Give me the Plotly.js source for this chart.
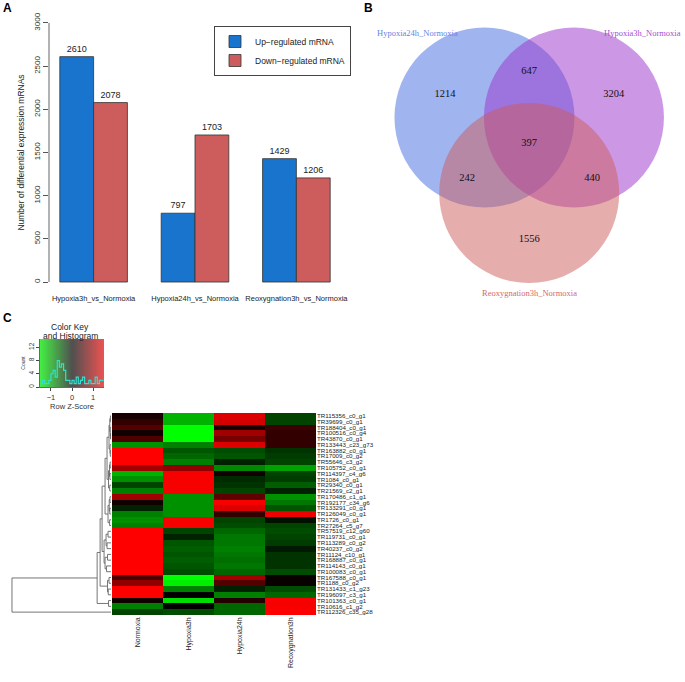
<!DOCTYPE html>
<html><head><meta charset="utf-8">
<script src="https://cdn.plot.ly/plotly-3.0.1.min.js"></script>
<style>html,body{margin:0;padding:0;background:#fff}#chart{width:685px;height:682px}</style>
</head><body><div id="chart"></div>
<script>
// ===== Panel A data =====
const comparisons = ['Hypoxia3h_vs_Normoxia','Hypoxia24h_vs_Normoxia','Reoxygnation3h_vs_Normoxia'];
const upRegulated = [2610, 797, 1429];
const downRegulated = [2078, 1703, 1206];
const seriesNames = ['Up\u2212regulated mRNA','Down\u2212regulated mRNA'];
const barTicks = [0, 500, 1000, 1500, 2000, 2500, 3000];

// ===== Panel B data =====
const vennSets = ['Hypoxia24h_Normoxia','Hypoxia3h_Normoxia','Reoxygnation3h_Normoxia'];
// regions: H24 only, H24&H3, H3 only, all three, H24&Reoxy, H3&Reoxy, Reoxy only
const vennCounts = [1214, 647, 3204, 397, 242, 440, 1556];

// ===== Panel C data =====
const conditions = ['Normoxia','Hypoxia3h','Hypoxia24h','Reoxygnation3h'];
const genes = ['TR115356_c0_g1','TR39699_c0_g1','TR188404_c0_g1','TR100516_c0_g4','TR43870_c0_g1',
 'TR133443_c23_g73','TR163882_c0_g1','TR17009_c0_g2','TR55646_c3_g2','TR105752_c0_g1',
 'TR114397_c4_g6','TR1084_c0_g1','TR29340_c0_g1','TR21569_c2_g1','TR170486_c1_g1',
 'TR192177_c34_g6','TR133291_c0_g1','TR126049_c0_g1','TR1726_c0_g1','TR27264_c5_g7',
 'TR57519_c12_g60','TR119731_c0_g1','TR113289_c0_g2','TR40237_c0_g2','TR11124_c10_g1',
 'TR168887_c0_g1','TR114143_c0_g1','TR100083_c0_g1','TR167588_c0_g1','TR1188_c0_g2',
 'TR131433_c1_g23','TR196097_c3_g1','TR101363_c0_g1','TR10616_c1_g2','TR112326_c35_g28'];
const zScores = [
 [0.15,-1.05,1.3,-0.4],[0.3,-1.05,1.25,-0.4],[0.5,-1.5,0.15,0.35],[0.1,-1.5,0.95,0.3],[0.45,-1.5,0.7,0.3],
 [-0.85,-0.75,1.3,0.3],[1.5,-0.5,-0.45,-0.3],[1.5,-0.6,-0.5,-0.35],[1.5,-0.75,-0.2,-0.4],[0.95,0.85,-0.8,-0.95],
 [-1.05,1.45,0.1,-0.4],[-0.85,1.45,-0.25,-0.35],[-0.4,1.45,-0.3,-0.55],[-0.75,1.45,-0.4,-0.2],[0.95,-0.85,0.55,-0.85],
 [0.1,-0.85,1.45,-0.7],[-0.2,-0.85,1.3,-0.5],[-0.75,-0.85,0.3,1.4],[-0.85,1.45,-0.4,-0.1],[-0.75,1.45,-0.45,-0.4],
 [1.5,-0.4,-0.6,-0.45],[1.5,-0.2,-0.7,-0.4],[1.5,-0.5,-0.7,-0.35],[1.5,-0.55,-0.75,-0.15],[1.5,-0.5,-0.7,-0.3],
 [1.5,-0.55,-0.65,-0.3],[1.5,-0.5,-0.7,-0.3],[1.5,-0.45,-0.6,-0.45],[0.45,-1.5,0.95,0.05],[0.85,-1.4,0.5,0.05],
 [1.5,-0.75,-0.2,-0.45],[1.5,0.0,-0.75,-0.6],[0.1,-1.3,0.2,1.45],[-0.75,0.0,-0.6,1.45],[-0.4,-0.45,-0.6,1.5]];
const histEdges = [-1.5,-1.4,-1.3,-1.2,-1.1,-1.0,-0.9,-0.8,-0.7,-0.6,-0.5,-0.4,-0.3,-0.2,-0.1,0.0,
 0.1,0.2,0.3,0.4,0.5,0.6,0.7,0.8,0.9,1.0,1.1,1.2,1.3,1.4,1.5];
const histCounts = [1,2,1,1,2,4,5,3,8,6,7,5,2,2,1,2,1,3,1,2,3,1,1,2,1,1,3,1,2,2];
const keyTicksY = [0,4,8,12];
const keyTicksX = [-1,0,1];
// row dendrogram: [height, left, right], leaves = row numbers
const g1 = [2.0,[1.2,[0.6,1,2],[0.8,3,[0.5,4,5]]],[1.0,6,[0.7,7,8]]];
const g2 = [2.5,[1.5,[0.9,9,10],[1.1,11,12]],[1.3,13,14]];
const g3 = [3.0,[1.8,[1.0,15,16],[1.2,17,18]],[1.4,19,20]];
const g4 = [7.0,[5.0,[3.0,21,22],[4.0,23,24]],[6.0,[3.5,25,26],[4.5,27,28]]];
const g5 = [3.5,[2.0,29,30],[2.8,31,32]];
const rowTree = [100,[14,[11,[9,[6,[4,g1,g2],g3],g4],g5],[2.5,33,34]],35];

// ===== helpers (layout) =====
const W=685,H=682;
const fx=p=>p/W, fy=p=>1-p/H;
const dX=(a,b)=>[fx(a),fx(b)], dY=(top,bot)=>[fy(bot),fy(top)];
const SANS='Liberation Sans, Arial, sans-serif', SERIF='Liberation Serif, Times New Roman, serif';

const traces=[];
// Panel A bars
traces.push({type:'bar',x:comparisons,y:upRegulated,name:seriesNames[0],xaxis:'x',yaxis:'y',
 marker:{color:'#1874cd',line:{color:'#333',width:0.8}},text:upRegulated.map(String),textposition:'outside',
 textfont:{family:SANS,size:9,color:'#222'},cliponaxis:false,hoverinfo:'skip'});
traces.push({type:'bar',x:comparisons,y:downRegulated,name:seriesNames[1],xaxis:'x',yaxis:'y',
 marker:{color:'#cd5c5c',line:{color:'#333',width:0.8}},text:downRegulated.map(String),textposition:'outside',
 textfont:{family:SANS,size:9,color:'#222'},cliponaxis:false,hoverinfo:'skip'});

// Panel B venn counts (positions in venn unit coordinates)
const vennCountX = [-0.936, 0, 0.94, 0, -0.69, 0.70, 0];
const vennCountY = [0.544, 0.80, 0.544, 0, -0.39, -0.39, -1.067];
traces.push({type:'scatter',mode:'text',x:vennCountX,y:vennCountY,text:vennCounts.map(String),
 textfont:{family:SERIF,size:10.5,color:'#111'},xaxis:'x2',yaxis:'y2',showlegend:false,hoverinfo:'skip'});

// Panel C color key
const keyX=[]; for(let i=0;i<=120;i++) keyX.push(-1.52+3.04*i/120);
traces.push({type:'heatmap',x:keyX,y:[0,14.5],z:[keyX,keyX],zmin:-1.5,zmax:1.5,
 colorscale:[[0,'#44ee44'],[0.5,'#505050'],[1,'#ee5252']],showscale:false,xaxis:'x3',yaxis:'y3',hoverinfo:'skip'});
traces.push({type:'scatter',mode:'lines',x:histEdges,y:histCounts.concat([histCounts[histCounts.length-1]]),
 line:{shape:'hv',color:'#30e0d0',width:1.2},xaxis:'x3',yaxis:'y3',showlegend:false,hoverinfo:'skip'});

// main heatmap
const rowIdx = genes.map((g,i)=>i+1);
traces.push({type:'heatmap',x:[0,1,2,3],y:rowIdx,z:zScores,zmin:-1.5,zmax:1.5,
 colorscale:[[0,'#00ff00'],[0.5,'#000000'],[1,'#ff0000']],showscale:false,xaxis:'x4',yaxis:'y4',hoverinfo:'skip'});

// dendrogram
const dx=[],dy=[];
function walk(n){
  if(typeof n==='number') return {p:n,h:0};
  const a=walk(n[1]), b=walk(n[2]), h=n[0];
  dx.push(a.h,h,h,b.h,null); dy.push(a.p,a.p,b.p,b.p,null);
  return {p:(a.p+b.p)/2,h:h};
}
walk(rowTree);
traces.push({type:'scatter',mode:'lines',x:dx,y:dy,line:{color:'#666',width:0.9},
 xaxis:'x5',yaxis:'y5',showlegend:false,hoverinfo:'skip'});

// venn geometry
const vennCenters=[[-0.497,0.283],[0.497,0.283],[0,-0.556]];
const vennFills=['rgba(65,105,225,0.5)','rgba(153,50,204,0.5)','rgba(205,92,92,0.5)'];
const shapes = vennCenters.map((c,i)=>({type:'circle',xref:'x2',yref:'y2',x0:c[0]-1,x1:c[0]+1,y0:c[1]-1,y1:c[1]+1,
 fillcolor:vennFills[i],line:{width:0},layer:'below'}));
shapes.push({type:'line',xref:'x domain',yref:'y',x0:0,x1:0,y0:0,y1:3000,line:{color:'#555',width:0.9}});

const ann=[];
const letter=(t,x,y)=>ann.push({text:'<b>'+t+'</b>',xref:'paper',yref:'paper',x:fx(x),y:fy(y),xanchor:'center',yanchor:'middle',showarrow:false,font:{family:SANS,size:12,color:'#000'}});
letter('A',7,8); letter('B',368,8); letter('C',7,318);
ann.push({text:vennSets[0],xref:'x2',yref:'y2',x:-1.714,y:1.222,xanchor:'left',yanchor:'middle',showarrow:false,font:{family:SERIF,size:8.5,color:'#6a84e6'}});
ann.push({text:vennSets[1],xref:'x2',yref:'y2',x:1.71,y:1.222,xanchor:'right',yanchor:'middle',showarrow:false,font:{family:SERIF,size:8.5,color:'#a44fd2'}});
ann.push({text:vennSets[2],xref:'x2',yref:'y2',x:0,y:-1.667,xanchor:'center',yanchor:'middle',showarrow:false,font:{family:SERIF,size:8.5,color:'#d46a6a'}});
ann.push({text:'Color Key',xref:'paper',yref:'paper',x:fx(70),y:fy(327),xanchor:'center',yanchor:'middle',showarrow:false,font:{family:SANS,size:8.5,color:'#222'}});
ann.push({text:'and Histogram',xref:'paper',yref:'paper',x:fx(70),y:fy(336),xanchor:'center',yanchor:'middle',showarrow:false,font:{family:SANS,size:8.5,color:'#222'}});

const layout={
 width:W,height:H,margin:{l:0,r:0,t:0,b:0},paper_bgcolor:'#fff',plot_bgcolor:'rgba(0,0,0,0)',
 font:{family:SANS,color:'#222'},
 barmode:'group',bargap:1/3,bargroupgap:0,
 showlegend:true,
 legend:{x:fx(214),y:fy(26),xanchor:'left',yanchor:'top',bordercolor:'#444',borderwidth:1,bgcolor:'#fff',
   font:{family:SANS,size:8.5,color:'#222'},tracegroupgap:0,itemwidth:30},
 xaxis:{domain:dX(49,341),range:[-0.44,2.44],showline:false,ticks:'',showgrid:false,zeroline:false,
   tickfont:{family:SANS,size:7.5,color:'#222'},anchor:'y',fixedrange:true},
 yaxis:{domain:dY(12.6,292.4),range:[-120,3120],tickvals:barTicks,ticks:'outside',ticklen:5,tickcolor:'#555',
   tickangle:-90,showgrid:false,zeroline:false,showline:false,tickfont:{family:SANS,size:8,color:'#333'},
   title:{text:'Number of differential expression mRNAs',font:{family:SANS,size:8.5,color:'#222'},standoff:6},anchor:'x'},
 xaxis2:{domain:dX(370,685),range:[-1.769,1.731],visible:false,anchor:'y2'},
 yaxis2:{domain:dY(5,305),range:[-1.8,1.533],visible:false,anchor:'x2'},
 xaxis3:{domain:dX(40,104),range:[-1.52,1.52],tickvals:keyTicksX,ticks:'outside',ticklen:3,tickcolor:'#444',
   showline:true,linecolor:'#444',linewidth:0.8,showgrid:false,zeroline:false,tickfont:{family:SANS,size:7.5,color:'#333'},
   title:{text:'Row Z-Score',font:{family:SANS,size:7.5,color:'#333'},standoff:2},anchor:'y3'},
 yaxis3:{domain:dY(339,387),range:[0,14.5],tickvals:keyTicksY,ticks:'outside',ticklen:3,tickcolor:'#444',tickangle:-90,
   showline:true,linecolor:'#444',linewidth:0.8,showgrid:false,zeroline:false,tickfont:{family:SANS,size:6.5,color:'#333'},
   title:{text:'Count',font:{family:SANS,size:5,color:'#333'},standoff:1},anchor:'x3'},
 xaxis4:{domain:dX(112,316),range:[-0.5,3.5],tickvals:[0,1,2,3],ticktext:conditions,tickangle:-90,ticks:'',
   showgrid:false,zeroline:false,showline:false,tickfont:{family:SANS,size:7,color:'#222'},anchor:'y4'},
 yaxis4:{domain:dY(413,615),range:[35.5,0.5],tickvals:rowIdx,ticktext:genes,side:'right',ticks:'',
   showgrid:false,zeroline:false,showline:false,tickfont:{family:SANS,size:6.2,color:'#222'},anchor:'x4'},
 xaxis5:{domain:dX(10,111),range:[102,0],visible:false,anchor:'y5'},
 yaxis5:{domain:dY(413,615),range:[35.5,0.5],visible:false,anchor:'x5'},
 shapes:shapes,annotations:ann
};
Plotly.newPlot('chart',traces,layout,{staticPlot:true,displayModeBar:false});
</script></body></html>
